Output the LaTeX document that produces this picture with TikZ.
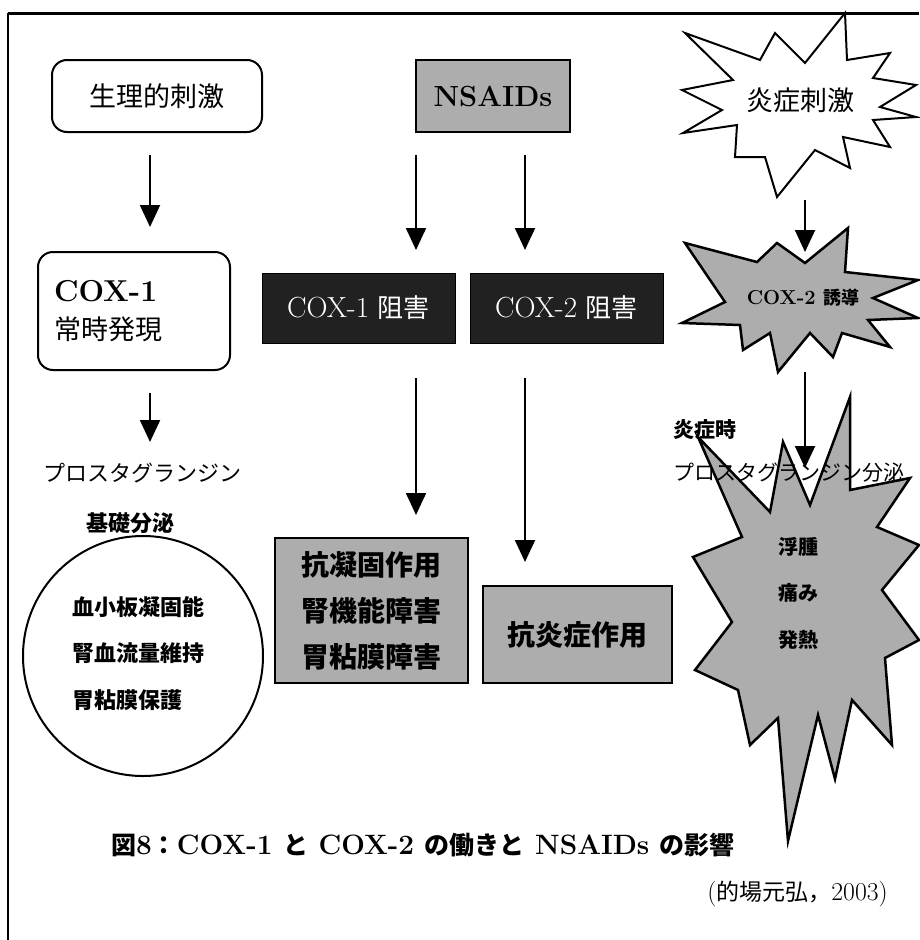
\documentclass[tikz,border=0pt]{standalone}
\usepackage{fontspec}
\setmainfont{Latin Modern Roman}[Scale=1.12]
\newfontfamily\jp{Noto Sans CJK JP}
\usetikzlibrary{arrows.meta}
\newcommand\J[1]{{\jp #1}}
\newcommand\fsz[1]{\fontsize{#1}{#1}\selectfont}
\definecolor{halftone}{gray}{0.68}
\definecolor{darkfill}{gray}{0.13}
\tikzset{
  arr/.style={line width=2pt,-{Triangle[width=20pt,length=22pt]}},
  rbox/.style={draw,line width=2pt,rounded corners=15pt,fill=white},
  gbox/.style={draw,line width=2pt,fill=halftone},
  dbox/.style={draw,line width=1pt,fill=darkfill,text=white},
  starw/.style={draw,line width=2pt,fill=white,line join=miter},
  starg/.style={draw,line width=2.5pt,fill=halftone,line join=miter},
  lbl/.style={inner sep=0pt},
}
\begin{document}
\begin{tikzpicture}[x=1pt,y=-1pt]
\useasboundingbox (0,0) rectangle (919,940);
% frame (partly shown)
\draw[line width=3pt] (8,13) -- (919,13);
\draw[line width=2pt] (8,13) -- (8,940);

% ---------- left column ----------
\node[rbox,minimum width=210,minimum height=72] (phys) at (157,96) {\fsz{27}\J{生理的刺激}};
\node[rbox,minimum width=192,minimum height=118,text width=160pt,inner xsep=16pt,align=left,
      font=\fontsize{27}{38}\selectfont] (cox1) at (134,311)
  {\textbf{COX-1}\\\J{常時発現}};
\coordinate (a1s) at (150,155); \coordinate (a1e) at (150,227);
\draw[arr] (a1s) -- (a1e);
\coordinate (a2s) at (150,393); \coordinate (a2e) at (150,442);
\draw[arr] (a2s) -- (a2e);
\node[lbl] (pg) at (142,473) {\fsz{22}\J{プロスタグランジン}};
\node[lbl] (kiso) at (130,523) {\fsz{22}\bfseries\J{基礎分泌}};
\node[draw,circle,line width=2pt,minimum size=240pt,inner sep=0pt] (circ) at (143,656) {};
\node[lbl,anchor=west] (c1) at (72,607) {\fsz{22}\bfseries\J{血小板凝固能}};
\node[lbl,anchor=west] (c2) at (72,653) {\fsz{22}\bfseries\J{腎血流量維持}};
\node[lbl,anchor=west] (c3) at (72,700) {\fsz{22}\bfseries\J{胃粘膜保護}};

% ---------- middle column ----------
\node[gbox,minimum width=154,minimum height=72] (nsaid) at (493,96) {\fsz{26}\bfseries NSAIDs};
\coordinate (b1s) at (416,155); \coordinate (b1e) at (416,250);
\coordinate (b2s) at (525,155); \coordinate (b2e) at (525,250);
\draw[arr] (b1s) -- (b1e);
\draw[arr] (b2s) -- (b2e);
\node[dbox,minimum width=193,minimum height=70] (inh1) at (358.5,308) {\fsz{26}COX-1 \J{阻害}};
\node[dbox,minimum width=193,minimum height=70] (inh2) at (566.5,308) {\fsz{26}COX-2 \J{阻害}};
\coordinate (c1s) at (416,378); \coordinate (c1e) at (416,515);
\coordinate (c2s) at (525,378); \coordinate (c2e) at (525,562);
\draw[arr] (c1s) -- (c1e);
\draw[arr] (c2s) -- (c2e);
\node[gbox,minimum width=193,minimum height=145,align=center,
      font=\fontsize{28}{46}\selectfont\bfseries\jp] (eff1) at (371.5,610.5)
  {抗凝固作用\\腎機能障害\\胃粘膜障害};
\node[gbox,minimum width=189,minimum height=97] (eff2) at (577.5,634.5) {\fsz{28}\bfseries\J{抗炎症作用}};

% ---------- right column ----------
\draw[starw] (845,13) -- (847,60) -- (890,53) -- (873,78) -- (916,85) -- (880,107)
  -- (916,117) -- (873,120) -- (890,147) -- (843,137) -- (850,168) -- (815,150)
  -- (777,197) -- (765,157) -- (735,157) -- (737,125) -- (683,133) -- (722,110)
  -- (682,90) -- (733,80) -- (685,33) -- (760,60) -- (775,33) -- (805,63) -- cycle;
\node[lbl] (infl) at (800,100) {\fsz{27}\J{炎症刺激}};
\coordinate (d1s) at (805,200); \coordinate (d1e) at (805,252);
\draw[arr] (d1s) -- (d1e);
\draw[starg] (685,243) -- (757,262) -- (777,243) -- (805,263) -- (848,228) -- (845,272)
  -- (918,280) -- (873,298) -- (918,318) -- (868,320) -- (890,347) -- (842,333)
  -- (833,357) -- (810,333) -- (778,372) -- (770,333) -- (743,350) -- (740,325)
  -- (682,323) -- (725,302) -- cycle;
\node[lbl] (cox2ind) at (803,298) {\fsz{18}\bfseries COX-2 \J{誘導}};
\node[lbl,anchor=west] (enj) at (673,430) {\fsz{21}\bfseries\J{炎症時}};
\draw[starg] (698,437) -- (770,512) -- (783,442) -- (810,505) -- (850,397) -- (850,490)
  -- (910,478) -- (877,527) -- (919,545) -- (882,590) -- (919,640) -- (885,658)
  -- (892,745) -- (852,700) -- (835,779) -- (818,715) -- (788,841) -- (778,718)
  -- (750,745) -- (738,690) -- (695,670) -- (732,622) -- (693,557) -- (742,537) -- cycle;
\coordinate (d2s) at (805,372); \coordinate (d2e) at (805,468);
\draw[arr] (d2s) -- (d2e);
\node[lbl,anchor=west] (pgb) at (673,473) {\fsz{21}\J{プロスタグランジン分泌}};
\node[lbl] (s1) at (798,547) {\fsz{20}\bfseries\J{浮腫}};
\node[lbl] (s2) at (798,593) {\fsz{20}\bfseries\J{痛み}};
\node[lbl] (s3) at (798,640) {\fsz{20}\bfseries\J{発熱}};

% ---------- caption ----------
\node[lbl] (cap) at (423,845) {\fsz{25}\bfseries\J{図}8\J{：}COX-1 \J{と} COX-2 \J{の働きと} NSAIDs \J{の影響}};
\node[lbl,anchor=east] (cite) at (888,894) {\fsz{23}(\J{的場元弘，}2003)};
\end{tikzpicture}
\end{document}
